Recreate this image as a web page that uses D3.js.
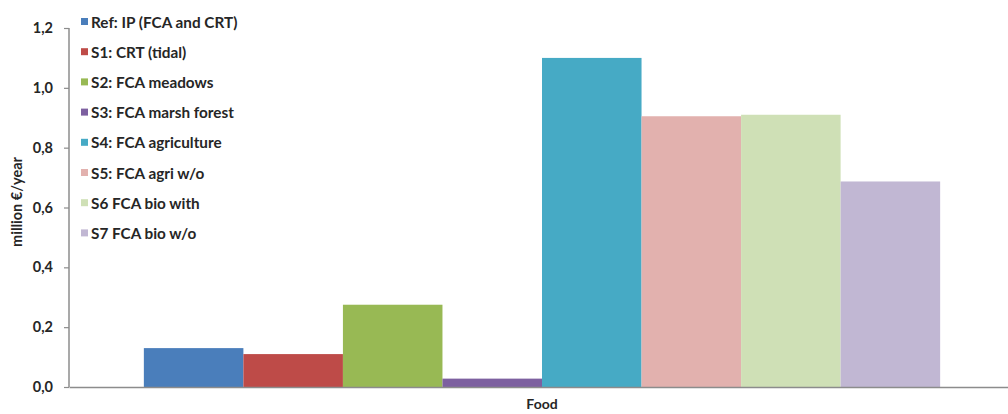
<!DOCTYPE html>
<html>
<head>
<meta charset="utf-8">
<script src="https://cdn.jsdelivr.net/npm/d3@7/dist/d3.min.js"></script>
<style>
  html, body { margin: 0; padding: 0; background: #fff; }
  svg { display: block; }
  text { font-family: Lato, "Open Sans", sans-serif; fill: #262626; }
</style>
</head>
<body>
<script>
// Food value per scenario (million €/year)
const categories = ["Food"];
const seriesNames = [
  "Ref: IP (FCA and CRT)",
  "S1: CRT (tidal)",
  "S2: FCA meadows",
  "S3: FCA marsh forest",
  "S4: FCA agriculture",
  "S5: FCA agri w/o",
  "S6 FCA bio with",
  "S7 FCA bio w/o"
];
const foodValues = [0.13, 0.11, 0.275, 0.028, 1.10, 0.905, 0.91, 0.687];
const seriesColors = ["#4a7ebb", "#be4b48", "#98b954", "#7d60a0", "#46aac5", "#e2b1ae", "#cfe0b6", "#c1b7d3"];
const yTicks = [0, 0.2, 0.4, 0.6, 0.8, 1.0, 1.2];
const yTitle = "million €/year";

const W = 1008, H = 414;
const svg = d3.select("body").append("svg").attr("width", W).attr("height", H);

const y = d3.scaleLinear().domain([0, 1.2]).range([387, 28]);
const x0 = d3.scaleBand().domain(categories).range([69, 1015]).paddingInner(0).paddingOuter(0.094);
const x1 = d3.scaleBand().domain(seriesNames).range([0, x0.bandwidth()]).padding(0);
const fmt = d => d3.format(".1f")(d).replace(".", ",");

// bars
const groups = svg.selectAll("g.cat").data(categories).join("g")
  .attr("class", "cat")
  .attr("transform", d => `translate(${x0(d)},0)`);
groups.selectAll("rect")
  .data(() => seriesNames.map((s, i) => ({ s, v: foodValues[i], c: seriesColors[i] })))
  .join("rect")
  .attr("x", d => x1(d.s))
  .attr("width", x1.bandwidth())
  .attr("y", d => y(d.v))
  .attr("height", d => y(0) - y(d.v))
  .attr("fill", d => d.c);

// y axis
const yAxis = svg.append("g").attr("transform", "translate(69,0)")
  .call(d3.axisLeft(y).tickValues(yTicks).tickFormat(fmt).tickSize(5).tickPadding(11));
yAxis.select(".domain").attr("stroke", "#8c8c8c").attr("stroke-width", 1.5).attr("d", `M0,${y(1.2)}V${y(0)}`);
yAxis.selectAll(".tick line").attr("stroke", "#8c8c8c").attr("stroke-width", 1.2);
yAxis.selectAll(".tick text").attr("font-size", 14.5).attr("font-weight", 700)
  .attr("font-family", "Lato, sans-serif").attr("fill", "#262626");

// x axis
const xAxis = svg.append("g").attr("transform", `translate(0,${y(0)})`)
  .call(d3.axisBottom(x0).tickSize(0).tickPadding(12));
xAxis.select(".domain").attr("stroke", "#8c8c8c").attr("stroke-width", 1.5);
xAxis.selectAll(".tick text").attr("font-size", 14).attr("font-weight", 700)
  .attr("font-family", "Lato, sans-serif").attr("fill", "#262626");

// y title
svg.append("text")
  .attr("transform", `translate(16,202) rotate(-90)`)
  .attr("text-anchor", "middle").attr("dominant-baseline", "central")
  .attr("font-size", 14.5).attr("font-weight", 700)
  .text(yTitle);

// legend
const legend = svg.append("g").attr("transform", "translate(81,21.5)");
const items = legend.selectAll("g").data(seriesNames).join("g")
  .attr("transform", (d, i) => `translate(0,${i * 30.2})`);
items.append("rect").attr("x", 0).attr("y", -3.5).attr("width", 7).attr("height", 7)
  .attr("fill", (d, i) => seriesColors[i]);
items.append("text").attr("x", 10).attr("y", 0).attr("dominant-baseline", "central")
  .attr("font-size", 15.3).attr("font-weight", 700).text(d => d);
</script>
</body>
</html>
